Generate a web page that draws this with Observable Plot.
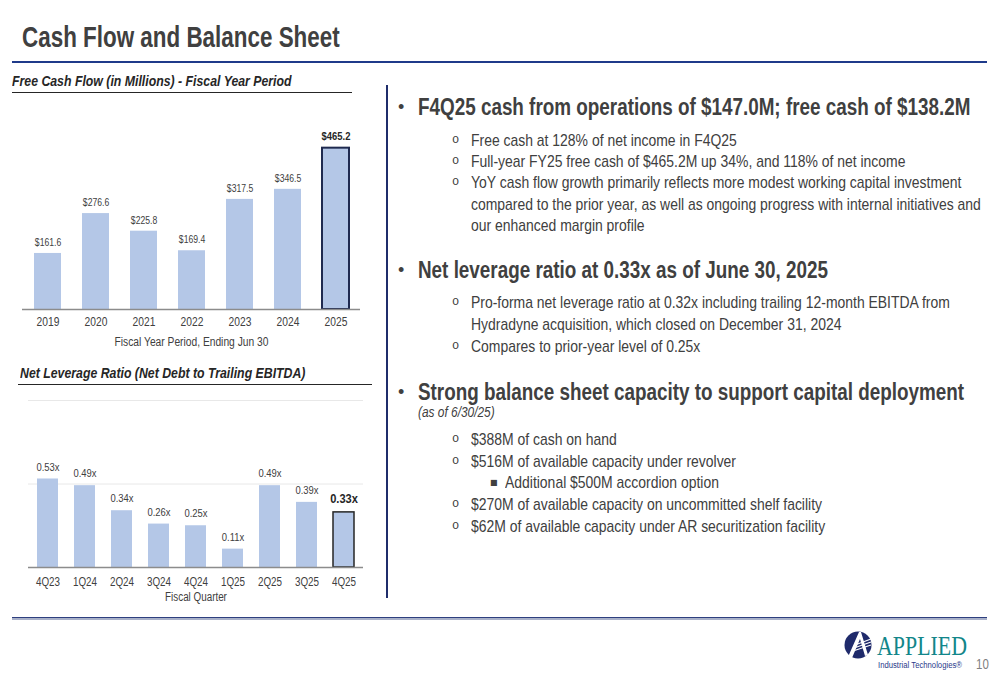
<!DOCTYPE html>
<html><head><meta charset="utf-8">
<script src="https://cdn.jsdelivr.net/npm/d3@7"></script>
<script src="https://cdn.jsdelivr.net/npm/@observablehq/plot@0.6"></script>
<style>
body{margin:0;background:#fff;}
#page{position:relative;width:1000px;height:685px;overflow:hidden;font-family:"Liberation Sans Narrow","Arial Narrow","Liberation Sans",sans-serif;color:#404040;}
.abs{position:absolute;white-space:nowrap;}
.n{display:inline-block;transform:scaleX(0.82);transform-origin:0 50%;}
.h{font-size:23px;font-weight:bold;line-height:26px;height:26px;}
.s{font-size:17px;line-height:20px;height:20px;}
.dot{position:absolute;left:398px;font-family:"Liberation Sans",sans-serif;font-size:18px;line-height:26px;}
.circ{position:absolute;font-family:"Liberation Mono",monospace;font-size:12px;line-height:20px;}
</style></head><body><div id="page">
<div class="abs" style="left:22px;top:19px;font-size:29.5px;font-weight:bold;line-height:36px;color:#404040;"><span class="n" style="transform:scaleX(0.76)">Cash Flow and Balance Sheet</span></div>
<div class="abs" style="left:12px;top:61px;width:975px;height:2px;background:#1f3a8a;"></div>
<div class="abs" style="left:12px;top:72px;font-size:15px;font-weight:bold;font-style:italic;line-height:18px;color:#262626;"><span class="n">Free Cash Flow (in Millions) - Fiscal Year Period</span></div>
<div class="abs" style="left:12px;top:92px;width:340px;height:1px;background:#262626;"></div>
<div class="abs" style="left:20px;top:364px;font-size:15px;font-weight:bold;font-style:italic;line-height:18px;color:#262626;"><span class="n">Net Leverage Ratio (Net Debt to Trailing EBITDA)</span></div>
<div class="abs" style="left:18px;top:384px;width:354px;height:1px;background:#262626;"></div>
<div class="abs" style="left:386px;top:85px;width:2px;height:513px;background:#1f2d6b;"></div>
<div class="abs" style="left:12px;top:617px;width:975px;height:1px;background:#2e3f7f;"></div>
<div class="abs" style="left:12px;top:618px;width:975px;height:2px;background:#a9b1c9;"></div>
<div id="chart1" class="abs" style="left:0;top:110px;"></div>
<div id="chart2" class="abs" style="left:0;top:390px;"></div>
<div id="right"></div>
<svg class="abs" style="left:830px;top:615px;" width="170" height="70" viewBox="0 0 170 70">
  <circle cx="28" cy="30" r="13.5" fill="#1f2a6b"/>
  <path d="M18 42 L29 17 L31 17 L38 40 L35 41 L30 24 L22 43 Z" fill="#fff"/>
  <path d="M25 30 L41 24 M24 33 L41 27 M23 36 L41 30" stroke="#fff" stroke-width="1.2"/>
  <text transform="translate(47,40) scale(1,1.2)" font-family="Liberation Serif,serif" font-size="22" fill="#12868a" textLength="90" lengthAdjust="spacingAndGlyphs">APPLIED</text>
  <text x="48" y="53" font-family="Liberation Sans,sans-serif" font-size="8.5" fill="#2a3a8a" textLength="84" lengthAdjust="spacingAndGlyphs">Industrial Technologies®</text>
</svg>
<div class="abs" style="left:976px;top:656px;font-size:14px;line-height:16px;color:#808080;"><span class="n">10</span></div>
</div>
<script>
// ---- data ----
const years = ["2019","2020","2021","2022","2023","2024","2025"];
const freeCashFlow = [161.6, 276.6, 225.8, 169.4, 317.5, 346.5, 465.2];
const highlightYear = "2025";
const quarters = ["4Q23","1Q24","2Q24","3Q24","4Q24","1Q25","2Q25","3Q25","4Q25"];
const leverage = [0.53, 0.49, 0.34, 0.26, 0.25, 0.11, 0.49, 0.39, 0.33];
const highlightQuarter = "4Q25";
const leverageGrid = [0.5, 1.0];

const FONT = '"Liberation Sans Narrow","Arial Narrow","Liberation Sans",sans-serif';
const BAR = "#b4c7e7";

const fcfData = years.map((y, i) => ({year: y, value: freeCashFlow[i], label: "$" + freeCashFlow[i].toFixed(1), hi: y === highlightYear}));
const levData = quarters.map((q, i) => ({q, value: leverage[i], label: leverage[i].toFixed(2) + "x", hi: q === highlightQuarter}));

// condense SVG text (narrow face is not installed)
function condense(svg, k = 0.82) {
  svg.querySelectorAll("text").forEach(t => {
    const w = t.getComputedTextLength();
    if (w > 0) { t.setAttribute("textLength", (w * k).toFixed(2)); t.setAttribute("lengthAdjust", "spacingAndGlyphs"); }
  });
}

const c1 = Plot.plot({
  width: 372, height: 245, marginLeft: 22, marginRight: 12, marginTop: 25.6, marginBottom: 46,
  x: {domain: years, paddingInner: 0.44, paddingOuter: 0.22},
  y: {domain: [0, 500], axis: null},
  style: {fontFamily: FONT, fontSize: "12.5px", color: "#404040", background: "transparent", overflow: "visible"},
  marks: [
    Plot.barY(fcfData, {x: "year", y: "value", fill: BAR}),
    Plot.barY(fcfData.filter(d => d.hi), {x: "year", y: "value", fill: "none", stroke: "#1f2a50", strokeWidth: 2}),
    Plot.ruleY([0], {stroke: "#8c8c8c", strokeWidth: 1.5}),
    Plot.text(fcfData.filter(d => !d.hi), {x: "year", y: "value", text: "label", dy: -11, fontSize: 10.5, fill: "#404040"}),
    Plot.text(fcfData.filter(d => d.hi), {x: "year", y: "value", text: "label", dy: -12, fontSize: 11.5, fontWeight: "bold", fill: "#262626"}),
    Plot.axisX({tickSize: 0, tickPadding: 8, label: "Fiscal Year Period, Ending Jun 30", labelAnchor: "center", labelOffset: 36, fill: "#404040"})
  ]
});
document.getElementById("chart1").appendChild(c1);
condense(c1);

const c2 = Plot.plot({
  width: 375, height: 220, marginLeft: 28, marginRight: 12, marginTop: 10, marginBottom: 43,
  x: {domain: quarters, paddingInner: 0.44, paddingOuter: 0.22},
  y: {domain: [0, 1], axis: null},
  style: {fontFamily: FONT, fontSize: "12px", color: "#404040", background: "transparent", overflow: "visible"},
  marks: [
    Plot.ruleY(leverageGrid, {stroke: "#e8e8e8", strokeWidth: 1}),
    Plot.barY(levData, {x: "q", y: "value", fill: BAR}),
    Plot.barY(levData.filter(d => d.hi), {x: "q", y: "value", fill: "none", stroke: "#262626", strokeWidth: 1.5}),
    Plot.ruleY([0], {stroke: "#8c8c8c", strokeWidth: 1.5}),
    Plot.text(levData.filter(d => !d.hi), {x: "q", y: "value", text: "label", dy: -12, fontSize: 11.5, fill: "#404040"}),
    Plot.text(levData.filter(d => d.hi), {x: "q", y: "value", text: "label", dy: -14, fontSize: 13.5, fontWeight: "bold", fill: "#262626"}),
    Plot.axisX({tickSize: 0, tickPadding: 10, label: "Fiscal Quarter", labelAnchor: "center", labelOffset: 33, fill: "#404040"})
  ]
});
document.getElementById("chart2").appendChild(c2);
condense(c2);

// ---- right column text ----
const right = document.getElementById("right");
function add(html) { right.insertAdjacentHTML("beforeend", html); }
function heading(cy, txt) {
  add(`<div class="dot" style="top:${cy-13}px">•</div><div class="abs h" style="left:418px;top:${cy-13}px"><span class="n">${txt}</span></div>`);
}
function sub(cy, txt, bullet) {
  if (bullet) add(`<div class="circ" style="left:452px;top:${cy-11}px">o</div>`);
  add(`<div class="abs s" style="left:471px;top:${cy-10}px"><span class="n">${txt}</span></div>`);
}
heading(107, "F4Q25 cash from operations of $147.0M; free cash of $138.2M");
sub(141, "Free cash at 128% of net income in F4Q25", true);
sub(162, "Full-year FY25 free cash of $465.2M up 34%, and 118% of net income", true);
sub(183, "YoY cash flow growth primarily reflects more modest working capital investment", true);
sub(204.5, "compared to the prior year, as well as ongoing progress with internal initiatives and", false);
sub(226, "our enhanced margin profile", false);
heading(270, "Net leverage ratio at 0.33x as of June 30, 2025");
sub(303, "Pro-forma net leverage ratio at 0.32x including trailing 12-month EBITDA from", true);
sub(325, "Hydradyne acquisition, which closed on December 31, 2024", false);
sub(347, "Compares to prior-year level of 0.25x", true);
heading(392, "Strong balance sheet capacity to support capital deployment");
add(`<div class="abs" style="left:418px;top:404px;font-size:14.5px;font-style:italic;line-height:16px;"><span class="n">(as of 6/30/25)</span></div>`);
sub(440, "$388M of cash on hand", true);
sub(462, "$516M of available capacity under revolver", true);
add(`<div class="abs" style="left:490px;top:473px;font-family:'DejaVu Sans',sans-serif;font-size:8px;line-height:20px;">■</div>`);
add(`<div class="abs s" style="left:505px;top:473px"><span class="n">Additional $500M accordion option</span></div>`);
sub(505, "$270M of available capacity on uncommitted shelf facility", true);
sub(527, "$62M of available capacity under AR securitization facility", true);
</script>
</body></html>
